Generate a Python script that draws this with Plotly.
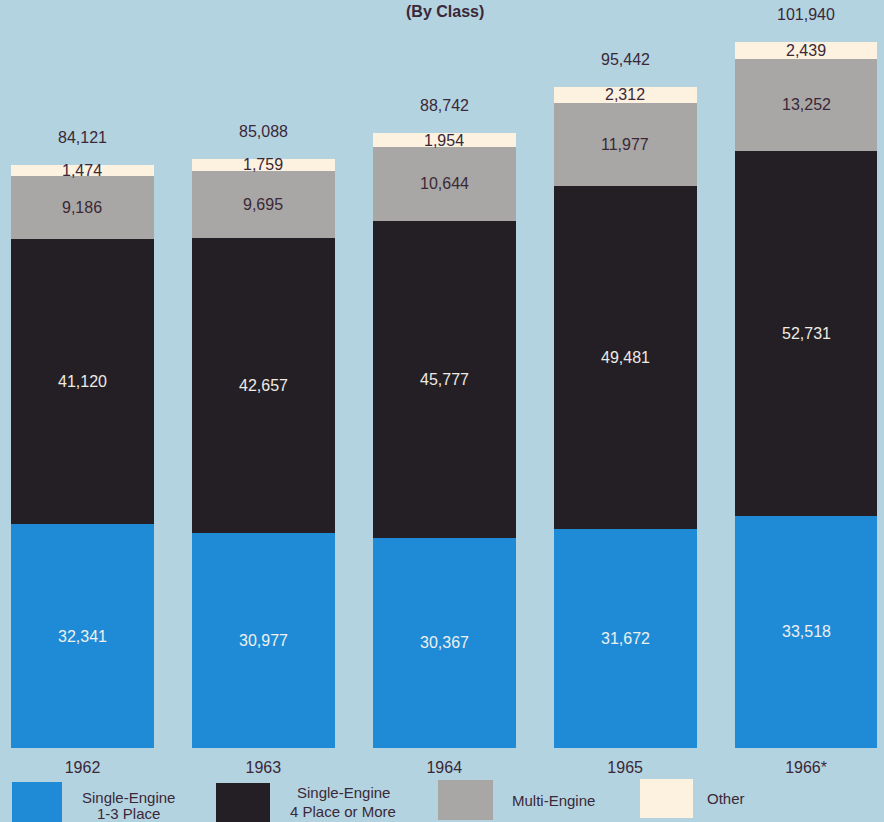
import plotly.graph_objects as go

# Aircraft counts by class, per year
years = ["1962", "1963", "1964", "1965", "1966*"]
single_1_3 = [32341, 30977, 30367, 31672, 33518]
single_4_plus = [41120, 42657, 45777, 49481, 52731]
multi_engine = [9186, 9695, 10644, 11977, 13252]
other = [1474, 1759, 1954, 2312, 2439]
totals = [84121, 85088, 88742, 95442, 101940]

series_names = ["Single-Engine<br>1-3 Place", "Single-Engine<br>4 Place or More", "Multi-Engine", "Other"]
series_values = [single_1_3, single_4_plus, multi_engine, other]
series_colors = ["#1f8bd6", "#231f24", "#a9a7a5", "#fdf1e0"]
label_colors = ["#eef0ee", "#eeeae4", "#3a2838", "#3a2838"]

BG = "#b4d3e0"
DARK = "#3a2838"
FONT = "Liberation Sans"

W, H = 884, 822
BOTTOM = 74
PLOT_H = H - BOTTOM

x_pos = list(range(len(years)))

fig = go.Figure()
for name, vals, col in zip(series_names, series_values, series_colors):
    fig.add_trace(go.Bar(
        x=x_pos, y=vals, name=name,
        marker=dict(color=col, line=dict(width=0)),
        width=0.79, showlegend=False, hoverinfo="y",
    ))

annotations = []
# values written at the middle of each segment
for i in x_pos:
    base = 0
    for vals, tcol in zip(series_values, label_colors):
        v = vals[i]
        annotations.append(dict(
            x=i, y=base + v / 2, xref="x", yref="y", text=f"{v:,}",
            showarrow=False, xanchor="center", yanchor="middle",
            font=dict(family=FONT, size=16, color=tcol),
        ))
        base += v
    # total above each bar
    annotations.append(dict(
        x=i, y=totals[i], xref="x", yref="y", text=f"{totals[i]:,}",
        showarrow=False, xanchor="center", yanchor="bottom", yshift=17,
        font=dict(family=FONT, size=16, color=DARK),
    ))


def py(px):
    """Pixel row -> paper y."""
    return (PLOT_H - px) / PLOT_H


def px_x(px):
    return px / W


# Title line at the top edge
annotations.append(dict(
    x=px_x(445), y=1, xref="paper", yref="paper", text="<b>(By Class)</b>",
    showarrow=False, xanchor="center", yanchor="top", yshift=-1,
    font=dict(family=FONT, size=16, color=DARK),
))

# Key: large swatches with captions beside them
shapes = []
key_boxes = [(12, 62, 782, 826), (216, 270, 783, 826), (438, 493, 780, 820), (640, 693, 779, 818)]
for (x0, x1, y0, y1), col in zip(key_boxes, series_colors):
    shapes.append(dict(
        type="rect", xref="paper", yref="paper",
        x0=px_x(x0), x1=px_x(x1), y0=py(y1), y1=py(y0),
        fillcolor=col, line=dict(width=0), layer="above",
    ))

key_text = [
    ("Single-Engine", 128, 797), ("1-3 Place", 128, 813),
    ("Single-Engine", 343, 793), ("4 Place or More", 343, 811),
    ("Multi-Engine", 553, 800), ("Other", 726, 798),
]
for txt, cx, cy in key_text:
    annotations.append(dict(
        x=px_x(cx), y=py(cy), xref="paper", yref="paper", text=txt,
        showarrow=False, xanchor="center", yanchor="middle",
        font=dict(family=FONT, size=15, color=DARK),
    ))

fig.update_layout(
    width=W, height=H,
    margin=dict(l=0, r=0, t=0, b=BOTTOM),
    paper_bgcolor=BG, plot_bgcolor=BG,
    barmode="stack",
    bargap=0,
    xaxis=dict(
        range=[-0.456, 4.431], tickvals=x_pos, ticktext=years,
        showgrid=False, zeroline=False, showline=False, ticks="",
        ticklabelstandoff=8,
        tickfont=dict(family=FONT, size=16, color=DARK),
        fixedrange=True,
    ),
    yaxis=dict(
        range=[0, 108000], visible=False, showgrid=False, fixedrange=True,
    ),
    annotations=annotations,
    shapes=shapes,
)

fig.write_html("out.html")
